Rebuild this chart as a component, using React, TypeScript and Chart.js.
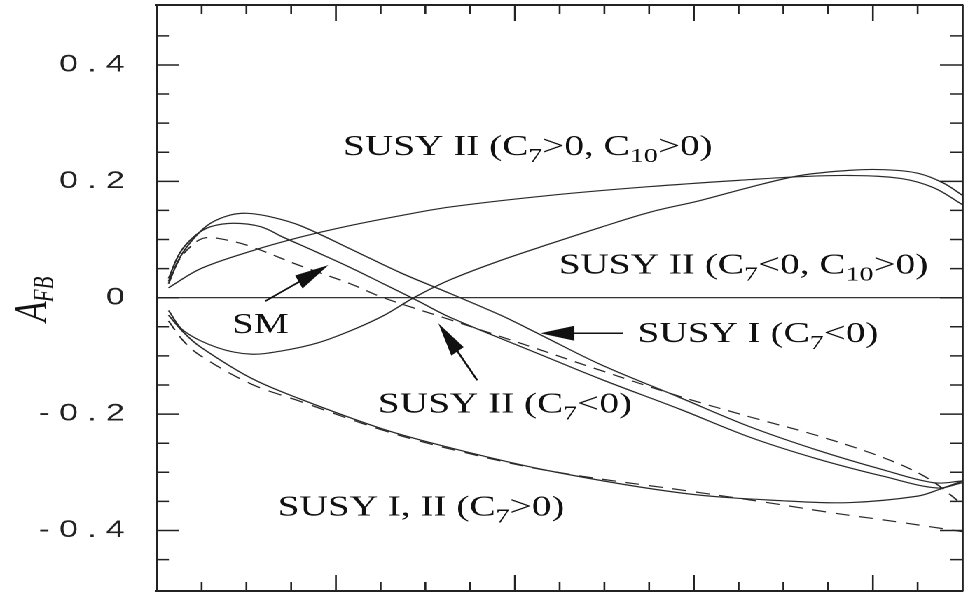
import React, { useEffect, useRef } from 'react';
import { Chart, registerables } from 'chart.js';

Chart.register(...registerables);

// ---- page / canvas geometry (reference is horizontally stretched) ----
const PAGE_W = 975;
const PAGE_H = 593;
const CANVAS_W = 696;
const S = PAGE_W / CANVAS_W;

// ---- axes ----
const xMin = 0;
const xMax = 9;
const xMinorStep = 0.5;
const xMajorStep = 2;
const yMin = -0.504;
const yMax = 0.503;
const yMinorStep = 0.05;
const yMajorStep = 0.2;
const yLabelTicks = [-0.4, -0.2, 0, 0.2, 0.4];
const yLabelTexts = ['- 0 . 4', '- 0 . 2', '0', '0 . 2', '0 . 4'];

// ---- series (q = horizontal variable, A = A_FB) ----
const susy2PosPosQ = [0.13, 0.49, 1.05, 1.6, 2.16, 2.72, 3.28, 4.4, 5.51, 6.63, 7.19, 7.75, 8.31, 8.68, 9.0];
const susy2PosPosA = [0.017, 0.05, 0.08, 0.104, 0.124, 0.141, 0.156, 0.176, 0.191, 0.203, 0.208, 0.21, 0.205, 0.189, 0.16];

const susy2NegPosQ = [0.13, 0.3, 0.68, 1.05, 1.41, 1.79, 2.16, 2.53, 2.87, 3.28, 3.84, 4.4, 4.96, 5.51, 6.07, 6.63, 7.19, 7.75, 8.12, 8.5, 8.79, 9.0];
const susy2NegPosA = [-0.022, -0.057, -0.086, -0.097, -0.091, -0.078, -0.057, -0.031, 0.0, 0.031, 0.064, 0.093, 0.121, 0.147, 0.167, 0.19, 0.21, 0.219, 0.22, 0.214, 0.197, 0.176];

const susy1NegQ = [0.13, 0.26, 0.43, 0.6, 0.82, 1.01, 1.27, 1.6, 2.16, 2.72, 3.28, 3.84, 4.29, 4.96, 5.85, 6.63, 7.38, 8.12, 8.68, 9.0];
const susy1NegA = [0.024, 0.07, 0.105, 0.128, 0.142, 0.145, 0.139, 0.124, 0.084, 0.043, 0.007, -0.03, -0.064, -0.115, -0.172, -0.222, -0.262, -0.296, -0.318, -0.315];

const susy2NegQ = [0.13, 0.26, 0.43, 0.6, 0.86, 1.16, 1.41, 1.79, 2.16, 2.53, 2.91, 3.28, 4.29, 4.96, 5.85, 6.63, 7.38, 8.12, 8.72, 9.0];
const susy2NegA = [0.033, 0.078, 0.107, 0.122, 0.128, 0.122, 0.104, 0.078, 0.052, 0.024, -0.005, -0.034, -0.098, -0.14, -0.192, -0.24, -0.277, -0.307, -0.327, -0.318];

const smQ = [0.13, 0.26, 0.43, 0.54, 0.68, 1.01, 1.6, 2.16, 2.53, 3.2, 4.29, 4.96, 5.85, 6.63, 7.38, 8.12, 8.61, 9.0];
const smA = [0.028, 0.068, 0.095, 0.103, 0.102, 0.09, 0.055, 0.024, 0.0, -0.034, -0.09, -0.125, -0.17, -0.205, -0.237, -0.275, -0.31, -0.355];

const susy12PosQ = [0.13, 0.3, 0.49, 1.05, 1.6, 2.53, 3.28, 4.4, 5.88, 7.0, 7.75, 8.5, 8.75, 9.0];
const susy12PosA = [-0.03, -0.06, -0.085, -0.138, -0.174, -0.226, -0.258, -0.298, -0.336, -0.349, -0.352, -0.341, -0.329, -0.315];

const smFlipQ = [0.13, 0.3, 0.49, 1.05, 1.6, 2.53, 3.28, 4.4, 6.07, 6.82, 7.56, 8.31, 9.0];
const smFlipA = [-0.04, -0.075, -0.1, -0.148, -0.178, -0.228, -0.26, -0.298, -0.335, -0.352, -0.37, -0.386, -0.402];

// ---- annotation texts (runs; sub = subscript) ----
type Run = { t: string; sub?: boolean };
const labelTexts: Run[][] = [
  [{ t: 'SUSY II (C' }, { t: '7', sub: true }, { t: '>0, C' }, { t: '10', sub: true }, { t: '>0)' }],
  [{ t: 'SUSY II (C' }, { t: '7', sub: true }, { t: '<0, C' }, { t: '10', sub: true }, { t: '>0)' }],
  [{ t: 'SUSY I (C' }, { t: '7', sub: true }, { t: '<0)' }],
  [{ t: 'SM' }],
  [{ t: 'SUSY II (C' }, { t: '7', sub: true }, { t: '<0)' }],
  [{ t: 'SUSY I, II (C' }, { t: '7', sub: true }, { t: '>0)' }],
];
const labelAnchors = [
  [2.08, 0.245],
  [4.49, 0.042],
  [5.37, -0.076],
  [0.84, -0.061],
  [2.47, -0.197],
  [1.35, -0.374],
];
const arrowFrom = [
  [1.21, -0.006],
  [5.21, -0.061],
  [3.58, -0.142],
];
const arrowTo = [
  [1.916, 0.056],
  [4.285, -0.061],
  [3.145, -0.044],
];

const INK = '#222';

const mk = (label: string, q: number[], a: number[], dash: number[]) => ({
  label,
  data: q.map((v, i) => ({ x: v, y: a[i] })),
  borderColor: '#2a2a2a',
  borderWidth: 1.2,
  borderDash: dash,
  pointRadius: 0,
  fill: false,
  tension: 0.35,
});

const nearMultiple = (v: number, step: number) => Math.abs(v / step - Math.round(v / step)) < 1e-6;

const zeroPad = (s: any) => {
  s.paddingTop = 0;
  s.paddingBottom = 0;
  s.paddingLeft = 0;
  s.paddingRight = 0;
};

const frameTicksPlugin = {
  id: 'frameTicks',
  afterDraw(chart: any) {
    const { ctx, chartArea: a, scales } = chart;
    const xs = scales.x;
    const ys = scales.y;
    ctx.save();
    ctx.strokeStyle = INK;
    ctx.lineWidth = 1.3;
    xs.ticks.forEach((t: any) => {
      const v = t.value;
      const px = xs.getPixelForValue(v);
      if (px <= a.left + 1 || px >= a.right - 1) return;
      const len = nearMultiple(v, xMajorStep) ? 16 : 9;
      ctx.beginPath();
      ctx.moveTo(px, a.bottom);
      ctx.lineTo(px, a.bottom - len);
      ctx.moveTo(px, a.top);
      ctx.lineTo(px, a.top + len);
      ctx.stroke();
    });
    ctx.lineWidth = 1.5;
    ys.ticks.forEach((t: any) => {
      const v = t.value;
      const py = ys.getPixelForValue(v);
      if (py <= a.top + 2 || py >= a.bottom - 2) return;
      if (!nearMultiple(v, yMinorStep)) return;
      const len = nearMultiple(v, yMajorStep) ? 16 : 8.6;
      ctx.beginPath();
      ctx.moveTo(a.left, py);
      ctx.lineTo(a.left + len, py);
      ctx.moveTo(a.right, py);
      ctx.lineTo(a.right - len, py);
      ctx.stroke();
    });
    ctx.restore();
  },
};

const annotationPlugin = {
  id: 'annotations',
  afterDatasetsDraw(chart: any) {
    const { ctx, scales } = chart;
    const xs = scales.x;
    const ys = scales.y;
    ctx.save();
    ctx.fillStyle = '#111';
    ctx.textBaseline = 'alphabetic';
    ctx.textAlign = 'left';
    labelTexts.forEach((runs, i) => {
      let x = xs.getPixelForValue(labelAnchors[i][0]);
      const y = ys.getPixelForValue(labelAnchors[i][1]);
      runs.forEach((r) => {
        ctx.font = r.sub ? '20px "Liberation Serif", serif' : '28px "Liberation Serif", serif';
        ctx.fillText(r.t, x, r.sub ? y + 7 : y);
        x += ctx.measureText(r.t).width;
      });
    });
    ctx.strokeStyle = '#111';
    ctx.lineWidth = 1.5;
    arrowFrom.forEach((f, i) => {
      const t = arrowTo[i];
      const p0x = xs.getPixelForValue(f[0]) * S;
      const p0y = ys.getPixelForValue(f[1]);
      const p1x = xs.getPixelForValue(t[0]) * S;
      const p1y = ys.getPixelForValue(t[1]);
      const dx = p1x - p0x;
      const dy = p1y - p0y;
      const len = Math.hypot(dx, dy);
      const ux = dx / len;
      const uy = dy / len;
      const hl = 34;
      const hw = 7.5;
      const bx = p1x - ux * hl;
      const by = p1y - uy * hl;
      ctx.beginPath();
      ctx.moveTo(p0x / S, p0y);
      ctx.lineTo((bx + ux * 2) / S, by + uy * 2);
      ctx.stroke();
      ctx.beginPath();
      ctx.moveTo(p1x / S, p1y);
      ctx.lineTo((bx - uy * hw) / S, by + ux * hw);
      ctx.lineTo((bx + uy * hw) / S, by - ux * hw);
      ctx.closePath();
      ctx.fill();
    });
    ctx.restore();
  },
};

const yTitlePlugin = {
  id: 'yTitle',
  afterDraw(chart: any) {
    const { ctx } = chart;
    ctx.save();
    ctx.fillStyle = '#111';
    ctx.translate(46 / S, 322);
    ctx.rotate(-Math.PI / 2);
    ctx.textBaseline = 'alphabetic';
    ctx.textAlign = 'left';
    ctx.font = 'italic 34px "Liberation Serif", serif';
    ctx.fillText('A', 0, 0);
    const w = ctx.measureText('A').width;
    ctx.font = 'italic 21px "Liberation Serif", serif';
    ctx.fillText('FB', w - 1, 5);
    ctx.restore();
  },
};

export default function App() {
  const ref = useRef<HTMLCanvasElement>(null);

  useEffect(() => {
    const canvas = ref.current;
    if (!canvas) return;
    const chart = new Chart(canvas, {
      type: 'line',
      data: {
        datasets: [
          mk('SUSY II (C7>0, C10>0)', susy2PosPosQ, susy2PosPosA, []),
          mk('SUSY II (C7<0, C10>0)', susy2NegPosQ, susy2NegPosA, []),
          mk('SUSY I (C7<0)', susy1NegQ, susy1NegA, []),
          mk('SUSY II (C7<0)', susy2NegQ, susy2NegA, []),
          mk('SM', smQ, smA, [9, 6]),
          mk('SUSY I, II (C7>0)', susy12PosQ, susy12PosA, []),
          mk('SUSY I, II (C7>0) dashed', smFlipQ, smFlipA, [10, 7]),
        ],
      },
      options: {
        animation: false,
        responsive: false,
        devicePixelRatio: 2,
        layout: { padding: { top: 5, right: 9, bottom: 2, left: 0 } },
        plugins: { legend: { display: false }, tooltip: { enabled: false } },
        scales: {
          x: {
            type: 'linear',
            position: 'bottom',
            min: xMin,
            max: xMax,
            ticks: { display: false, stepSize: xMinorStep, maxTicksLimit: 100 },
            grid: { display: false },
            border: { display: true, color: INK, width: 2 },
            afterFit: (s: any) => { s.height = 0; zeroPad(s); },
          },
          xTop: {
            type: 'linear',
            position: 'top',
            min: xMin,
            max: xMax,
            ticks: { display: false },
            grid: { display: false },
            border: { display: true, color: INK, width: 2 },
            afterFit: (s: any) => { s.height = 0; zeroPad(s); },
          },
          y: {
            type: 'linear',
            position: 'left',
            min: yMin,
            max: yMax,
            ticks: {
              stepSize: yMinorStep,
              maxTicksLimit: 100,
              autoSkip: false,
              padding: 23,
              color: INK,
              font: { family: '"Liberation Sans", sans-serif', size: 24 },
              callback: (v: any) => {
                const n = Number(v);
                const idx = yLabelTicks.findIndex((t) => Math.abs(t - n) < 1e-6);
                return idx < 0 ? '' : yLabelTexts[idx];
              },
            },
            grid: {
              display: true,
              drawOnChartArea: true,
              drawTicks: false,
              lineWidth: 1.3,
              color: (c: any) => (c.tick && Math.abs(c.tick.value) < 1e-6 ? '#333' : 'rgba(0,0,0,0)'),
            },
            border: { display: true, color: INK, width: 2 / S },
            afterFit: (s: any) => { s.width = 112; zeroPad(s); },
          },
          yRight: {
            type: 'linear',
            position: 'right',
            min: yMin,
            max: yMax,
            ticks: { display: false },
            grid: { display: false },
            border: { display: true, color: INK, width: 2 / S },
            afterFit: (s: any) => { s.width = 0; zeroPad(s); },
          },
        },
      },
      plugins: [frameTicksPlugin, annotationPlugin, yTitlePlugin],
    } as any);
    return () => chart.destroy();
  }, []);

  return (
    <div
      style={{
        position: 'fixed',
        left: 0,
        top: 0,
        width: CANVAS_W,
        height: PAGE_H,
        transform: `scaleX(${S})`,
        transformOrigin: '0 0',
        background: '#fff',
      }}
    >
      <canvas ref={ref} width={CANVAS_W} height={PAGE_H} style={{ display: 'block' }} />
    </div>
  );
}
